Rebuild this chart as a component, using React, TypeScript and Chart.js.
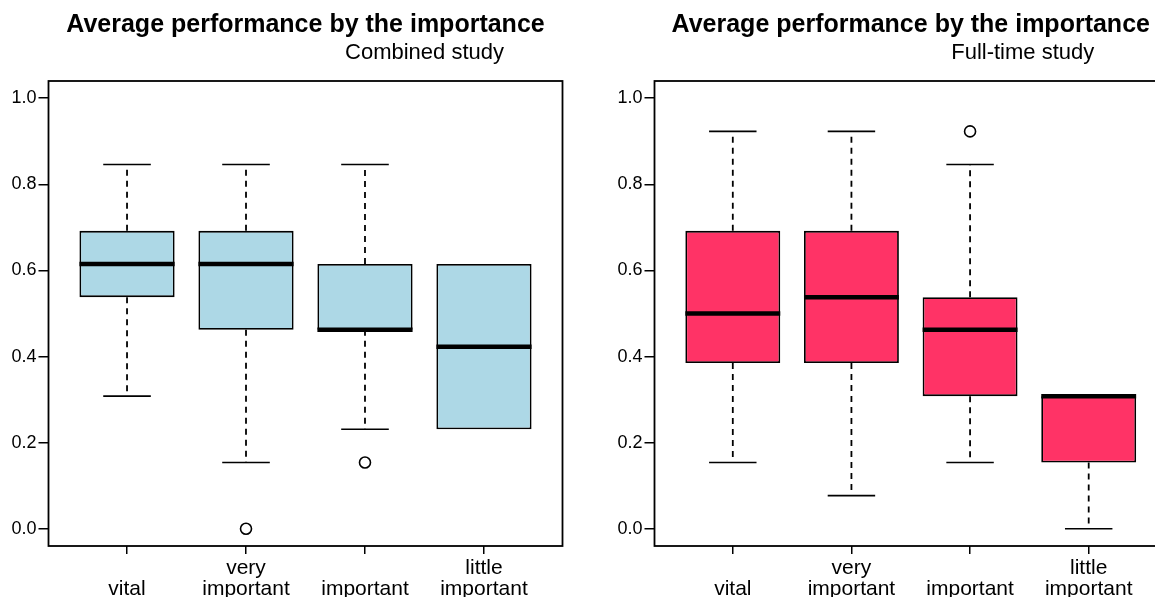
import { useEffect, useRef } from "react";
import { Chart, registerables } from "chart.js";

Chart.register(...registerables);

// ---------- data ----------
const categoryLabels = [["", "vital"], ["very", "important"], ["", "important"], ["little", "important"]];
const categoryPositions = [1, 2, 3, 4];
const mainTitle = "Average performance by the importance";
const subTitles = ["Combined study", "Full-time study"];
const yTickValues = [0, 0.2, 0.4, 0.6, 0.8, 1.0];

// Combined study
const combinedLowerWhisker = [0.308, 0.154, 0.231, 0.231];
const combinedQ1 = [0.538, 0.462, 0.462, 0.231];
const combinedMedian = [0.615, 0.615, 0.462, 0.423];
const combinedQ3 = [0.692, 0.692, 0.615, 0.615];
const combinedUpperWhisker = [0.846, 0.846, 0.846, 0.615];
const combinedOutlierCategory = [2, 3];
const combinedOutlierValue = [0.0, 0.154];

// Full-time study
const fullLowerWhisker = [0.154, 0.077, 0.154, 0.0];
const fullQ1 = [0.385, 0.385, 0.308, 0.154];
const fullMedian = [0.5, 0.538, 0.462, 0.308];
const fullQ3 = [0.692, 0.692, 0.538, 0.308];
const fullUpperWhisker = [0.923, 0.923, 0.846, 0.308];
const fullOutlierCategory = [3];
const fullOutlierValue = [0.923];

const FONT = "'Liberation Sans', Arial, Helvetica, sans-serif";

type PanelDef = {
  sub: string;
  subOffset: number;
  color: string;
  lower: number[];
  q1: number[];
  median: number[];
  q3: number[];
  upper: number[];
  outCat: number[];
  outVal: number[];
  canvasLeft: number;
  yWidth: number;
  padRight: number;
};

const panels: PanelDef[] = [
  {
    sub: subTitles[0], subOffset: 119, color: "#ADD8E6",
    lower: combinedLowerWhisker, q1: combinedQ1, median: combinedMedian, q3: combinedQ3, upper: combinedUpperWhisker,
    outCat: combinedOutlierCategory, outVal: combinedOutlierValue,
    canvasLeft: 0, yWidth: 48.5, padRight: 37.5,
  },
  {
    sub: subTitles[1], subOffset: 112, color: "#FF3366",
    lower: fullLowerWhisker, q1: fullQ1, median: fullMedian, q3: fullQ3, upper: fullUpperWhisker,
    outCat: fullOutlierCategory, outVal: fullOutlierValue,
    canvasLeft: 600, yWidth: 54.5, padRight: 33,
  },
];

function makeBoxPlugin(p: PanelDef) {
  return {
    id: "boxExtras",
    beforeDatasetsDraw(chart: any) {
      const { ctx } = chart;
      const x = chart.scales.x;
      const y = chart.scales.y;
      const capHalf = x.getPixelForValue(1.2) - x.getPixelForValue(1);
      ctx.save();
      ctx.strokeStyle = "#000";
      categoryPositions.forEach((c, i) => {
        const cx = x.getPixelForValue(c);
        const yq1 = y.getPixelForValue(p.q1[i]);
        const yq3 = y.getPixelForValue(p.q3[i]);
        const ylo = y.getPixelForValue(p.lower[i]);
        const yhi = y.getPixelForValue(p.upper[i]);
        ctx.lineWidth = 1.8;
        ctx.setLineDash([6, 5]);
        ctx.beginPath();
        if (p.lower[i] < p.q1[i]) {
          ctx.moveTo(cx, yq1);
          ctx.lineTo(cx, ylo);
        }
        if (p.upper[i] > p.q3[i]) {
          ctx.moveTo(cx, yq3);
          ctx.lineTo(cx, yhi);
        }
        ctx.stroke();
        ctx.setLineDash([]);
        ctx.lineWidth = 1.6;
        ctx.beginPath();
        if (p.lower[i] < p.q1[i]) {
          ctx.moveTo(cx - capHalf, ylo);
          ctx.lineTo(cx + capHalf, ylo);
        }
        if (p.upper[i] > p.q3[i]) {
          ctx.moveTo(cx - capHalf, yhi);
          ctx.lineTo(cx + capHalf, yhi);
        }
        ctx.stroke();
      });
      ctx.restore();
    },
    afterDatasetsDraw(chart: any) {
      const { ctx } = chart;
      const x = chart.scales.x;
      const y = chart.scales.y;
      const meta = chart.getDatasetMeta(0);
      ctx.save();
      ctx.strokeStyle = "#000";
      ctx.lineWidth = 4.5;
      ctx.lineCap = "butt";
      categoryPositions.forEach((c, i) => {
        const bar = meta.data[i];
        const half = bar.width / 2;
        const cx = x.getPixelForValue(c);
        const ym = y.getPixelForValue(p.median[i]);
        ctx.beginPath();
        ctx.moveTo(cx - half, ym);
        ctx.lineTo(cx + half, ym);
        ctx.stroke();
      });
      ctx.restore();
    },
    afterDraw(chart: any) {
      const { ctx, chartArea } = chart;
      ctx.save();
      ctx.strokeStyle = "#000";
      ctx.lineWidth = 1.8;
      ctx.strokeRect(chartArea.left, chartArea.top, chartArea.right - chartArea.left, chartArea.bottom - chartArea.top);
      const cx = (chartArea.left + chartArea.right) / 2;
      ctx.fillStyle = "#000";
      ctx.textAlign = "center";
      ctx.textBaseline = "alphabetic";
      ctx.font = `bold 25px ${FONT}`;
      ctx.fillText(mainTitle, cx, 32);
      ctx.font = `22px ${FONT}`;
      ctx.fillText(p.sub, cx + p.subOffset, 59);
      ctx.restore();
    },
  };
}

function Panel({ p }: { p: PanelDef }) {
  const ref = useRef<HTMLCanvasElement>(null);
  useEffect(() => {
    const chart = new Chart(ref.current!, {
      type: "bar",
      data: {
        datasets: [
          {
            type: "bar",
            data: categoryPositions.map((c, i) => ({ x: c, y: [p.q1[i], p.q3[i]] })) as any,
            backgroundColor: p.color,
            borderColor: "#000",
            borderWidth: 1.8,
            borderSkipped: false,
            barPercentage: 0.8,
            categoryPercentage: 1,
          } as any,
          {
            type: "scatter",
            data: p.outCat.map((c, i) => ({ x: c, y: p.outVal[i] })),
            pointStyle: "circle",
            pointRadius: 5.5,
            pointBorderWidth: 1.6,
            pointBorderColor: "#000",
            pointBackgroundColor: "rgba(0,0,0,0)",
          } as any,
        ],
      },
      options: {
        animation: false,
        responsive: false,
        devicePixelRatio: 1,
        layout: { padding: { top: 81, left: 0, right: p.padRight, bottom: 0 } },
        plugins: { legend: { display: false }, tooltip: { enabled: false }, title: { display: false } },
        scales: {
          x: {
            type: "linear",
            offset: false,
            min: 0.34,
            max: 4.66,
            afterBuildTicks: (s: any) => {
              s.ticks = categoryPositions.map((v) => ({ value: v }));
            },
            afterFit: (s: any) => {
              s.height = 51;
            },
            grid: { display: true, offset: false, drawOnChartArea: false, drawTicks: true, tickLength: 8, color: "#000", lineWidth: 1.5 },
            border: { display: false },
            ticks: {
              autoSkip: false,
              maxRotation: 0,
              padding: 3.5,
              color: "#000",
              font: { family: FONT, size: 21, lineHeight: 1.0 },
              callback: (v: any) => {
                const idx = categoryPositions.indexOf(Number(v));
                return idx >= 0 ? categoryLabels[idx] : "";
              },
            },
          },
          y: {
            type: "linear",
            min: -0.04,
            max: 1.04,
            afterBuildTicks: (s: any) => {
              s.ticks = yTickValues.map((v) => ({ value: v }));
            },
            afterFit: (s: any) => {
              s.width = p.yWidth;
            },
            grid: { display: true, drawOnChartArea: false, drawTicks: true, tickLength: 10, color: "#000", lineWidth: 1.5 },
            border: { display: false },
            ticks: {
              padding: 2,
              color: "#000",
              font: { family: FONT, size: 18 },
              callback: (v: any) => Number(v).toFixed(1),
            },
          },
        },
      } as any,
      plugins: [makeBoxPlugin(p)],
    });
    return () => chart.destroy();
  }, [p]);
  return (
    <canvas
      ref={ref}
      width={600}
      height={597}
      style={{ position: "absolute", left: p.canvasLeft, top: 0, width: 600, height: 597 }}
    />
  );
}

export default function App() {
  return (
    <div style={{ position: "fixed", left: 0, top: 0, width: "100vw", height: "100vh", overflow: "hidden", background: "#fff" }}>
      {panels.map((p, i) => (
        <Panel key={i} p={p} />
      ))}
    </div>
  );
}
